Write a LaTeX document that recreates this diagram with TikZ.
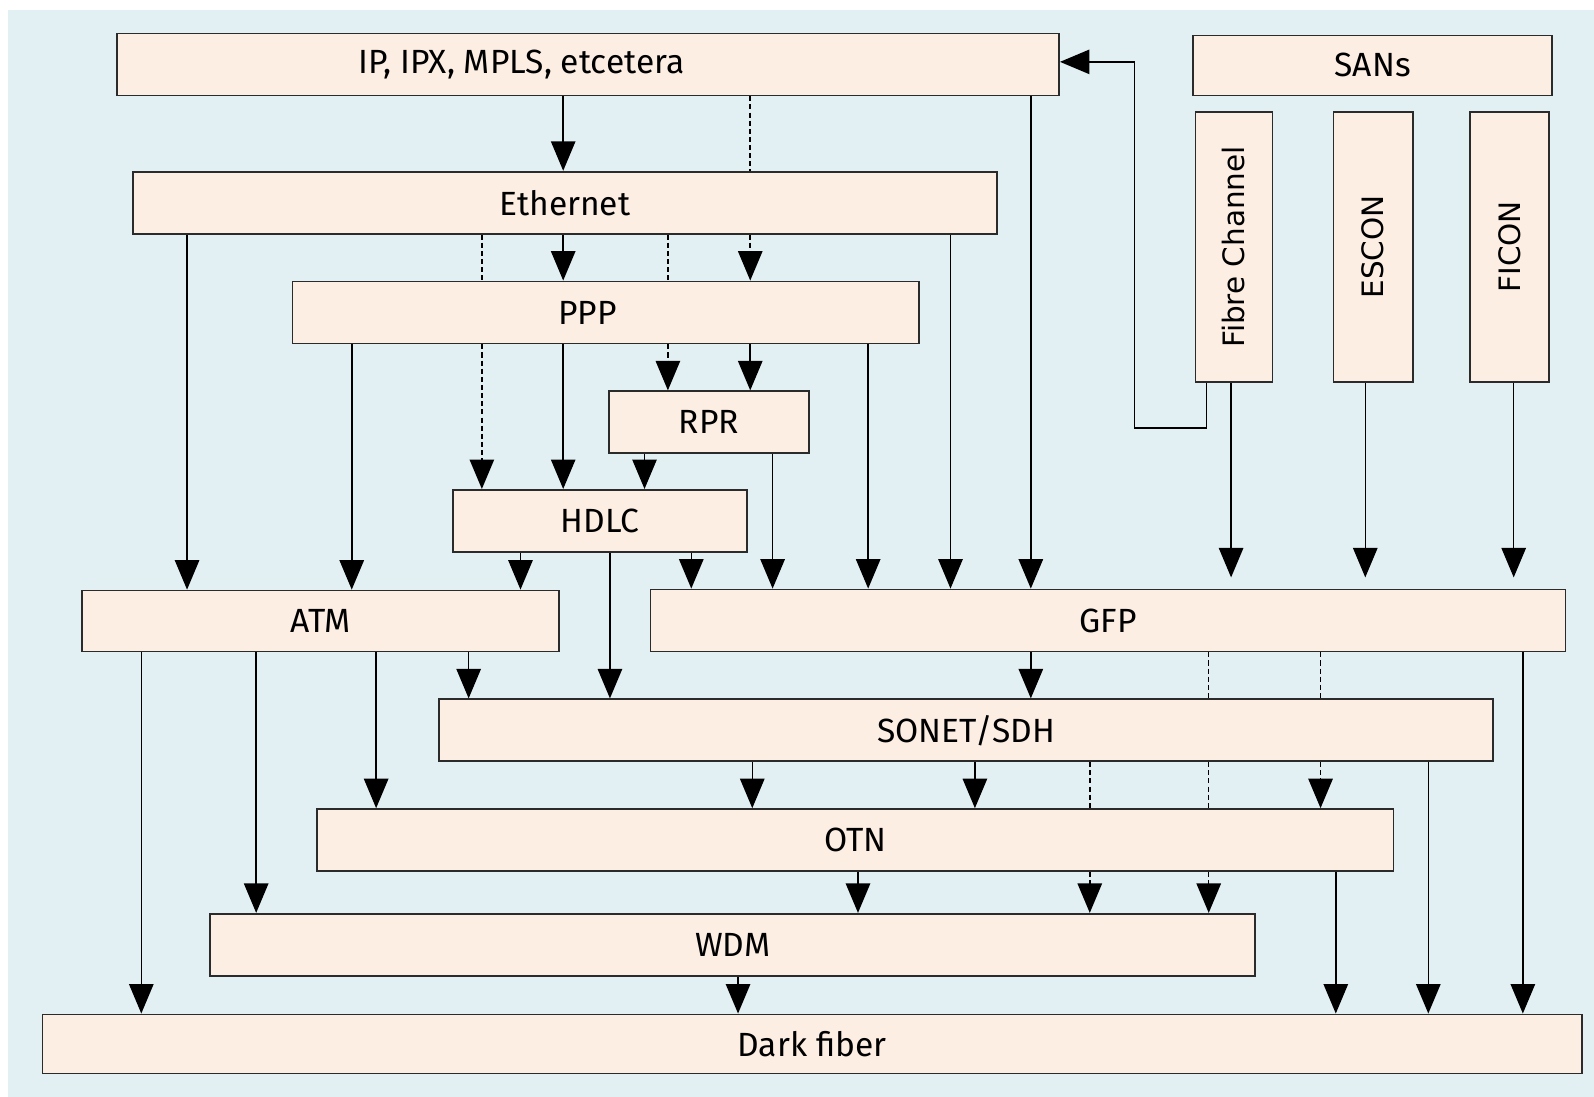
\documentclass[tikz,border=0pt]{standalone}
\usepackage{fontspec}
\setmainfont{Fira Sans}
\newfontfamily\vfont{DejaVu Sans}
\usetikzlibrary{arrows.meta}
\definecolor{panel}{HTML}{E2F0F4}
\definecolor{boxfill}{HTML}{FDEEE4}
\definecolor{boxline}{HTML}{2B2B2B}
\tikzset{
  box/.style={draw=boxline, fill=boxfill, line width=1.7pt, inner sep=0pt, anchor=north west,
    font=\fontsize{33}{39}\selectfont},
  vbox/.style={box, font=\vfont\fontsize{29}{34}\selectfont},
  conline/.style={line width=1.5pt, draw=black},
  solidarr/.style={conline, -{Triangle[length=29pt,width=24pt]}},
  dasharr/.style={conline, dash pattern=on 5pt off 3pt, -{Triangle[length=29pt,width=24pt]}},
  dashline/.style={conline, dash pattern=on 5pt off 3pt}
}
\newcommand\vcon[4]{\draw[#1] (#4,0 |- #2.south) -- (#4,0 |- #3.north);}
\begin{document}
\begin{tikzpicture}[x=1pt,y=-1pt]
\useasboundingbox (0,0) rectangle (1568,1079);
\fill[panel] (8,10) rectangle (1568,1079);

\node[box, minimum width=927pt, minimum height=61pt] (ip) at (114,32) {IP, IPX, MPLS, etcetera\hspace*{131pt}};
\node[box, minimum width=353pt, minimum height=59pt] (sans) at (1173,34) {SANs};
\node[box, minimum width=850pt, minimum height=61pt] (eth) at (130,168) {Ethernet};
\node[box, minimum width=616pt, minimum height=61pt] (ppp) at (287,276) {PPP\hspace*{36pt}};
\node[box, minimum width=197pt, minimum height=61pt] (rpr) at (598,384) {RPR};
\node[box, minimum width=289pt, minimum height=61pt] (hdlc) at (445,481) {HDLC};
\node[box, minimum width=469pt, minimum height=60pt] (atm) at (80,580) {ATM};
\node[box, minimum width=900pt, minimum height=61pt] (gfp) at (639,579) {GFP};
\node[box, minimum width=1037pt, minimum height=61pt] (sonet) at (431,687) {SONET/SDH};
\node[box, minimum width=1059pt, minimum height=61pt] (otn) at (311,795) {OTN};
\node[box, minimum width=1028pt, minimum height=61pt] (wdm) at (206,898) {WDM};
\node[box, minimum width=1514pt, minimum height=58pt] (dark) at (41,997) {Dark fiber};
\node[vbox, minimum width=76pt, minimum height=266pt] (fc) at (1175,109) {\rotatebox{90}{Fibre Channel}};
\node[vbox, minimum width=78pt, minimum height=266pt] (escon) at (1311,109) {\rotatebox{90}{ESCON}};
\node[vbox, minimum width=78pt, minimum height=266pt] (ficon) at (1445,109) {\rotatebox{90}{FICON}};

% IP
\vcon{solidarr}{ip}{eth}{554}
\vcon{dashline}{ip}{eth}{738}
\vcon{solidarr}{ip}{gfp}{1014}
% Ethernet
\vcon{solidarr}{eth}{atm}{184}
\vcon{dashline}{eth}{ppp}{474}
\vcon{solidarr}{eth}{ppp}{554}
\vcon{dashline}{eth}{ppp}{657}
\vcon{dasharr}{eth}{ppp}{738}
\vcon{solidarr}{eth}{gfp}{935}
% PPP
\vcon{solidarr}{ppp}{atm}{346}
\vcon{dasharr}{ppp}{hdlc}{474}
\vcon{solidarr}{ppp}{hdlc}{554}
\vcon{dasharr}{ppp}{rpr}{657}
\vcon{solidarr}{ppp}{rpr}{738}
\vcon{solidarr}{ppp}{gfp}{854}
% RPR
\vcon{solidarr}{rpr}{hdlc}{634}
\vcon{solidarr}{rpr}{gfp}{760}
% HDLC
\vcon{solidarr}{hdlc}{atm}{512}
\vcon{solidarr}{hdlc}{sonet}{600}
\vcon{solidarr}{hdlc}{gfp}{680}
% ATM
\vcon{solidarr}{atm}{dark}{139}
\vcon{solidarr}{atm}{wdm}{252}
\vcon{solidarr}{atm}{otn}{370}
\vcon{solidarr}{atm}{sonet}{461}
% GFP
\vcon{solidarr}{gfp}{sonet}{1014}
\vcon{dashline}{gfp}{sonet}{1189}
\vcon{dashline}{gfp}{sonet}{1299}
\vcon{solidarr}{gfp}{dark}{1498}
% SONET
\vcon{solidarr}{sonet}{otn}{740}
\vcon{solidarr}{sonet}{otn}{959}
\vcon{dashline}{sonet}{otn}{1072}
\vcon{dashline}{sonet}{otn}{1189}
\vcon{dasharr}{sonet}{otn}{1299}
\vcon{solidarr}{sonet}{dark}{1405}
% OTN
\vcon{solidarr}{otn}{wdm}{844}
\vcon{dasharr}{otn}{wdm}{1072}
\vcon{dasharr}{otn}{wdm}{1189}
\vcon{solidarr}{otn}{dark}{1314}
% WDM
\vcon{solidarr}{wdm}{dark}{726}
% SANs
\vcon{solidarr, shorten >=11pt}{fc}{gfp}{1211}
\vcon{solidarr, shorten >=11pt}{escon}{gfp}{1343}
\vcon{solidarr, shorten >=11pt}{ficon}{gfp}{1489}
% feedback Fibre Channel -> IP
\coordinate (fbk) at (1116,421);
\draw[solidarr] (1187,0 |- fc.south) -- (1187,0 |- fbk) -- (fbk) -- ([yshift=2.5pt]fbk |- ip.east) -- ([yshift=2.5pt]ip.east);
\end{tikzpicture}
\end{document}
